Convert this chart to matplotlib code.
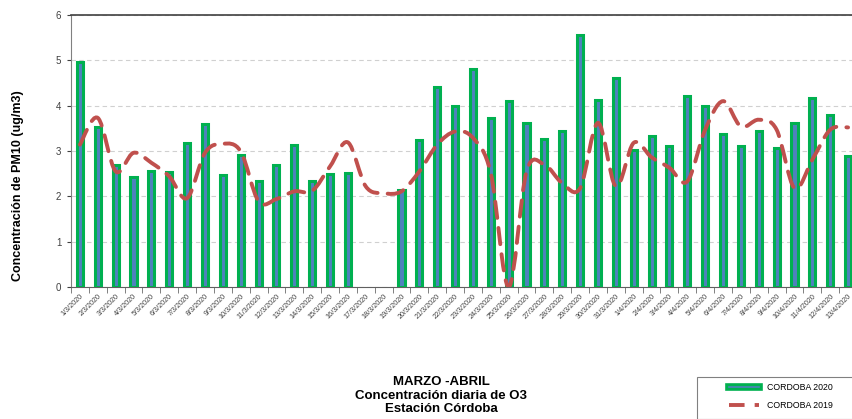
"""Concentración diaria PM10 - Estación Córdoba, marzo-abril 2020 vs 2019."""

import matplotlib

matplotlib.use("Agg")
import matplotlib.pyplot as plt
import numpy as np
from matplotlib.lines import Line2D
from matplotlib.patches import PathPatch, Rectangle
from matplotlib.path import Path

plt.rcParams["font.family"] = ["Liberation Sans", "DejaVu Sans"]

# Fechas (1/3/2020 .. 13/4/2020)
dates = [f"{d}/3/2020" for d in range(1, 32)] + [f"{d}/4/2020" for d in range(1, 14)]

# CORDOBA 2020 (barras); None = sin dato
cordoba_2020 = [
    4.96, 3.53, 2.69, 2.43, 2.56, 2.54, 3.18, 3.60, 2.47, 2.91,
    2.34, 2.69, 3.13, 2.34, 2.49, 2.51, None, None, 2.14, 3.24,
    4.41, 3.99, 4.81, 3.73, 4.10, 3.62, 3.26, 3.44, 5.56, 4.13,
    4.61, 3.02, 3.33, 3.11, 4.21, 3.99, 3.38, 3.11, 3.44, 3.07,
    3.62, 4.17, 3.79, 2.89,
]

# CORDOBA 2019 (línea suavizada)
cordoba_2019 = [
    3.14, 3.73, 2.55, 2.96, 2.74, 2.44, 1.96, 2.96, 3.16, 2.99,
    1.89, 1.94, 2.11, 2.12, 2.66, 3.19, 2.22, 2.07, 2.11, 2.55,
    3.14, 3.43, 3.29, 2.51, 0.00, 2.55, 2.70, 2.29, 2.18, 3.62,
    2.22, 3.18, 2.86, 2.63, 2.33, 3.47, 4.10, 3.54, 3.69, 3.47,
    2.18, 2.81, 3.47, 3.52,
]

W, H = 853, 419
fig = plt.figure(figsize=(W / 100, H / 100), dpi=100)
ax = fig.add_axes([71 / W, 1 - 287 / H, (857 - 71) / W, 272 / H])

x = np.arange(len(dates))
vals = np.array([np.nan if v is None else v for v in cordoba_2020])

# Barras: relleno azul con borde verde grueso
ax.bar(x, vals, width=0.34, color="#4f81bd", edgecolor="#00b050",
       linewidth=2.2, zorder=3)

# Línea 2019 suavizada (bezier estilo Excel)
y19 = np.array(cordoba_2019)
verts = [(x[0], y19[0])]
codes = [Path.MOVETO]
n = len(x)
for i in range(n - 1):
    p0 = np.array([x[max(i - 1, 0)], y19[max(i - 1, 0)]])
    p1 = np.array([x[i], y19[i]])
    p2 = np.array([x[i + 1], y19[i + 1]])
    p3 = np.array([x[min(i + 2, n - 1)], y19[min(i + 2, n - 1)]])
    c1 = p1 + (p2 - p0) / 6
    c2 = p2 - (p3 - p1) / 6
    verts += [tuple(c1), tuple(c2), tuple(p2)]
    codes += [Path.CURVE4] * 3
line19 = PathPatch(Path(verts, codes), fill=False, edgecolor="#c0504d",
                   linewidth=2.8, linestyle=(0, (4.2, 2.6)), capstyle="round",
                   zorder=4)
ax.add_patch(line19)

ax.set_xlim(-0.5, len(dates) - 0.5)
ax.set_ylim(0, 6)
ax.set_yticks(range(0, 7))
ax.tick_params(axis="y", labelsize=7, colors="#404040", length=3,
               width=0.8, direction="out", pad=4)

# Etiquetas de fecha centradas, marcas entre categorías
ax.set_xticks(x)
ax.set_xticklabels(dates, rotation=45, ha="right", rotation_mode="anchor",
                   fontsize=5.2, color="#404040")
ax.tick_params(axis="x", which="major", length=0, pad=4)
ax.set_xticks(np.arange(-0.5, len(dates), 1), minor=True)
ax.tick_params(axis="x", which="minor", length=4, width=0.7, color="#808080")

ax.grid(axis="y", linestyle=(0, (4, 3)), color="#d0d0d0", linewidth=0.8,
        zorder=0)
ax.spines["right"].set_visible(False)
ax.spines["top"].set_color("#404040")
ax.spines["top"].set_linewidth(1.2)
ax.spines["left"].set_color("#808080")
ax.spines["bottom"].set_color("#606060")

fig.text(18 / W, 1 - 186 / H, "Concentración de PM10 (ug/m3)", rotation=90,
         ha="center", va="center", fontsize=9, fontweight="bold")

fig.text(441 / W, 1 - 395.5 / H,
         "MARZO -ABRIL\nConcentración diaria de O3\nEstación Córdoba",
         ha="center", va="center", fontsize=9.5, fontweight="bold",
         linespacing=1.2)

# Leyenda
fig.patches.append(Rectangle((697 / W, 0), (W - 697) / W + 0.01, (H - 377) / H,
                             transform=fig.transFigure, facecolor="white",
                             edgecolor="#808080", linewidth=0.8))
h2020 = (Line2D([], [], color="#00b050", linewidth=5.5),
         Line2D([], [], color="#4f81bd", linewidth=1.2))
h2019 = Line2D([], [], color="#c0504d", linewidth=2.8,
               linestyle=(0, (4, 2.6)))
fig.legend([h2020, h2019], ["CORDOBA 2020", "CORDOBA 2019"],
           loc="upper left", bbox_to_anchor=(726 / W, 1 - 379.5 / H),
           frameon=False, fontsize=6.3, handlelength=3.4, handletextpad=0.9,
           labelspacing=1.0, borderaxespad=0)

fig.savefig("out.png", dpi=100)
